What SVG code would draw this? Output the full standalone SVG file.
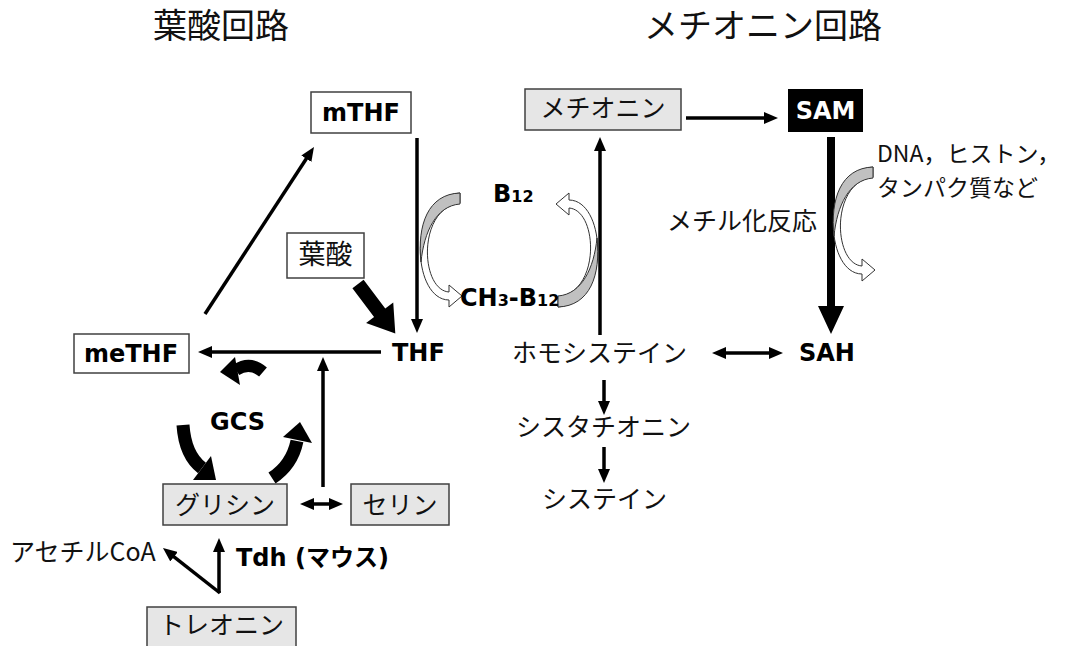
<svg xmlns="http://www.w3.org/2000/svg" xmlns:xlink="http://www.w3.org/1999/xlink" width="1075" height="646" viewBox="0 0 1075 646">
<style>
.jp{font-family:"Noto Sans CJK JP","Noto Sans",sans-serif;fill:#111}
.b{font-family:"DejaVu Sans","Noto Sans CJK JP",sans-serif;font-weight:bold;fill:#000;font-size:24px}
.box{fill:#fff;stroke:#404040;stroke-width:1.5}
.gbox{fill:#e6e6e6;stroke:#404040;stroke-width:1.5}
.ln{stroke:#000;stroke-width:3.5;fill:none}
.cv{stroke:#000;fill:none}
</style>
<defs>
<marker id="ah" viewBox="0 0 14 12" refX="8" refY="6" markerWidth="14" markerHeight="12" markerUnits="userSpaceOnUse" orient="auto-start-reverse">
<path d="M0,0 L14,6 L0,12 Z" fill="#000"/>
</marker>
<g id="ribbon">
<path d="M460,193 C406,198 412,300 449,300 L449,307 L462,296 L449,285 L449,292 C420,290 417,208 460,203 Z" fill="#fff" stroke="#333" stroke-width="1"/>
<path d="M460,193 C428,194 417,225 421,262 C424,232 436,206 460,204 Z" fill="#c0c0c0" stroke="#333" stroke-width="1"/>
</g>
</defs>
<rect width="1075" height="646" fill="#fff"/>

<g id="titles">
<text class="jp" x="153" y="38" font-size="34">葉酸回路</text>
<text class="jp" x="644" y="38" font-size="34">メチオニン回路</text>
</g>

<g id="connectors">
<line class="ln" x1="205" y1="314" x2="310.7" y2="152" marker-end="url(#ah)"/>
<line class="ln" x1="417" y1="138" x2="417" y2="327" stroke-width="3" marker-end="url(#ah)"/>
<line class="ln" x1="381" y1="352" x2="204" y2="352" marker-end="url(#ah)"/>
<line class="ln" x1="323" y1="487" x2="323" y2="363" marker-end="url(#ah)"/>
<line class="ln" x1="306" y1="504" x2="337" y2="504" marker-start="url(#ah)" marker-end="url(#ah)"/>
<line class="ln" x1="219" y1="593" x2="219" y2="544" marker-end="url(#ah)"/>
<line class="ln" x1="220" y1="593" x2="167.7" y2="551.8" marker-end="url(#ah)"/>
<line class="ln" x1="600" y1="335" x2="600" y2="143" marker-end="url(#ah)"/>
<line class="ln" x1="686" y1="118" x2="772" y2="118" marker-end="url(#ah)"/>
<line class="ln" x1="718" y1="353" x2="777" y2="353" marker-start="url(#ah)" marker-end="url(#ah)"/>
<line class="ln" x1="604" y1="380" x2="604" y2="409" marker-end="url(#ah)"/>
<line class="ln" x1="604" y1="447" x2="604" y2="477" marker-end="url(#ah)"/>
<!-- SAM to SAH thick -->
<path d="M827,137 L835,137 L835,306 L844,306 L831,334 L818,306 L827,306 Z" fill="#000"/>
<!-- folate big arrow -->
<path d="M0,-7 L36,-7 L36,-17 L62,0 L36,17 L36,7 L0,7 Z" fill="#000" transform="translate(358,284) rotate(53)"/>
<!-- GCS curved arrows -->
<path class="cv" d="M263,372 Q250,361 236,370" stroke-width="12"/>
<path d="M220,372 L235,357 L240,385 Z" fill="#000"/>
<path class="cv" d="M183,425 Q185,455 202,468" stroke-width="13"/>
<path d="M216,480 L193,480 L211,456 Z" fill="#000"/>
<path class="cv" d="M272,478 Q292,465 297,441" stroke-width="13"/>
<path d="M300,422 L312,443 L283,437 Z" fill="#000"/>
<!-- ribbon arrows -->
<use xlink:href="#ribbon"/>
<use xlink:href="#ribbon" transform="rotate(180 509 250)"/>
<use xlink:href="#ribbon" transform="translate(413,-26)"/>
</g>

<g id="mTHF">
<rect class="box" x="311" y="92" width="100" height="41"/>
<text class="b" x="361" y="121" text-anchor="middle">mTHF</text>
</g>
<g id="meTHF">
<rect class="box" x="74" y="334" width="115" height="39"/>
<text class="b" x="131" y="362" text-anchor="middle">meTHF</text>
</g>
<g id="THF">
<text class="b" x="392" y="361">THF</text>
</g>
<g id="folate">
<rect class="box" x="287" y="233" width="77" height="45"/>
<text class="jp" x="325.5" y="264" font-size="27" text-anchor="middle">葉酸</text>
</g>
<g id="GCS">
<text class="b" x="210" y="430" font-size="27">GCS</text>
</g>
<g id="glycine">
<rect class="gbox" x="163" y="484" width="124" height="41"/>
<text class="jp" x="225" y="514" font-size="25" text-anchor="middle">グリシン</text>
</g>
<g id="serine">
<rect class="gbox" x="351" y="484" width="98" height="41"/>
<text class="jp" x="400" y="514" font-size="25" text-anchor="middle">セリン</text>
</g>
<g id="threonine">
<rect class="gbox" x="147" y="607" width="149" height="45"/>
<text class="jp" x="221.5" y="634" font-size="25" text-anchor="middle">トレオニン</text>
</g>
<g id="acetylcoa">
<text class="jp" x="10" y="561" font-size="25">アセチルCoA</text>
</g>
<g id="tdh">
<text class="b" x="236" y="566" font-size="23">Tdh (マウス)</text>
</g>
<g id="B12">
<text class="b" x="493" y="202">B<tspan font-size="16">12</tspan></text>
</g>
<g id="CH3B12">
<text class="b" x="460" y="306">CH<tspan font-size="16">3</tspan>-B<tspan font-size="16">12</tspan></text>
</g>
<g id="methionine">
<rect class="gbox" x="525" y="89" width="156" height="41"/>
<text class="jp" x="603" y="117" font-size="25" text-anchor="middle">メチオニン</text>
</g>
<g id="SAM">
<rect x="788" y="89" width="75" height="43" fill="#000"/>
<text class="b" x="825.5" y="119" text-anchor="middle" style="fill:#fff">SAM</text>
</g>
<g id="SAH">
<text class="b" x="799" y="361">SAH</text>
</g>
<g id="homocysteine">
<text class="jp" x="512" y="362" font-size="25">ホモシステイン</text>
</g>
<g id="cystathionine">
<text class="jp" x="516" y="436" font-size="25">シスタチオニン</text>
</g>
<g id="cysteine">
<text class="jp" x="542" y="508" font-size="25">システイン</text>
</g>
<g id="methylation">
<text class="jp" x="667" y="230" font-size="25">メチル化反応</text>
</g>
<g id="targets">
<text class="jp" x="877" y="162" font-size="23">DNA，ヒストン，</text>
<text class="jp" x="877" y="196" font-size="23">タンパク質など</text>
</g>
</svg>
